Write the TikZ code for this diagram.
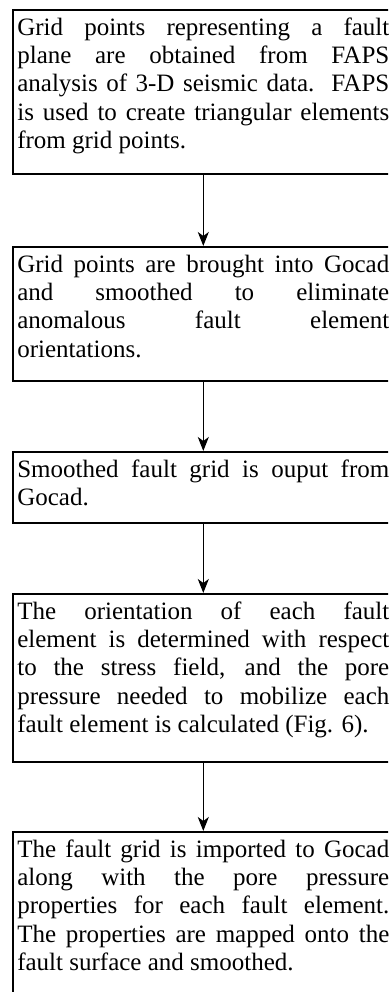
\documentclass[tikz,border=0pt]{standalone}
\usepackage{fontspec}
\setmainfont{Liberation Serif}
\usetikzlibrary{arrows.meta}

% one justified line of a box
\newcommand{\jl}[1]{\makebox[\linewidth][s]{#1}\\}
% text block of a box: height, lines
\newcommand{\boxtext}[2]{\parbox[c][#1][t]{372pt}{\rule{0pt}{25.5pt}#2}}

\begin{document}
\begin{tikzpicture}[x=1pt,y=-1pt,
	stepbox/.style={draw, line width=1.6pt, inner xsep=4.5pt, inner ysep=0pt, anchor=north west,
		font=\fontsize{25}{28.3}\selectfont},
	flow/.style={line width=1.5pt, -{Stealth[length=14pt,width=11pt,inset=4pt]}}]
	\useasboundingbox (0,0) rectangle (388,992);
	\clip (0,0) rectangle (388,992);
	
	% --- các bước ---
	\node[stepbox] (faps) at (12,9) {\boxtext{164pt}{%
			\jl{Grid points representing a fault}
			\jl{plane are obtained from FAPS}
			\jl{analysis of 3-D seismic data.\ \ FAPS}
			\jl{is used to create triangular elements}
			from grid points.}};
	\node[stepbox] (gocad) at (12,246) {\boxtext{134pt}{%
			\jl{Grid points are brought into Gocad}
			\jl{and smoothed to eliminate}
			\jl{anomalous fault element}
			orientations.}};
	\node[stepbox] (output) at (12,451) {\boxtext{71pt}{%
			\jl{Smoothed fault grid is ouput from}
			Gocad.}};
	\node[stepbox] (stress) at (12,593) {\boxtext{168pt}{%
			\jl{The orientation of each fault}
			\jl{element is determined with respect}
			\jl{to the stress field, and the pore}
			\jl{pressure needed to mobilize each}
			fault element is calculated (Fig. 6).}};
	\node[stepbox] (import) at (12,831) {\boxtext{172pt}{%
			\jl{The fault grid is imported to Gocad}
			\jl{along with the pore pressure}
			\jl{properties for each fault element.}
			\jl{The properties are mapped onto the}
			fault surface and smoothed.}};
	
	% --- mũi tên ---
	\draw[flow] (faps.south) -- (gocad.north);
	\draw[flow] (gocad.south) -- (output.north);
	\draw[flow] (output.south) -- (stress.north);
	\draw[flow] (stress.south) -- (import.north);
\end{tikzpicture}
\end{document}
